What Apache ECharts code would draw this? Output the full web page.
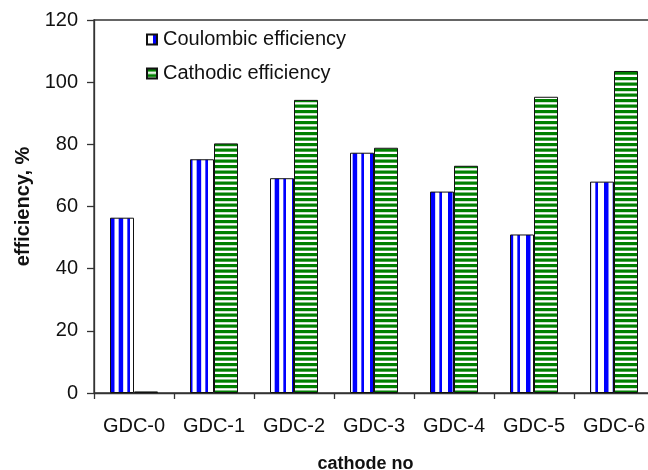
<!DOCTYPE html>
<html><head><meta charset="utf-8">
<script src="https://cdn.jsdelivr.net/npm/echarts@6/dist/echarts.min.js"></script>
<style>html,body{margin:0;padding:0;background:#fff}#c{width:648px;height:470px}</style>
</head><body><div id="c"></div>
<script>
const categories = ['GDC-0', 'GDC-1', 'GDC-2', 'GDC-3', 'GDC-4', 'GDC-5', 'GDC-6'];
const coulombic = [56.4, 75.2, 69.1, 77.3, 64.8, 51.0, 68.0];
const cathodic = [0.5, 80.3, 94.3, 78.9, 73.1, 95.3, 103.6];
const seriesNames = ['Coulombic efficiency', 'Cathodic efficiency'];
const yMin = 0, yMax = 120, yStep = 20;

function vStripes() {
  const c = document.createElement('canvas');
  c.width = 26; c.height = 4;
  const g = c.getContext('2d');
  g.fillStyle = '#fff'; g.fillRect(0, 0, 26, 4);
  g.fillStyle = '#0000ff';
  for (let i = 0; i < 3; i++) g.fillRect(6 + i * 8.667, 0, 4.5, 4);
  return c;
}
function hStripes() {
  const c = document.createElement('canvas');
  c.width = 4; c.height = 11;
  const g = c.getContext('2d');
  g.fillStyle = '#fff'; g.fillRect(0, 0, 4, 11);
  g.fillStyle = '#008000';
  g.fillRect(0, 0, 4, 3.2);
  g.fillRect(0, 5.5, 4, 3.2);
  return c;
}

const FONT = '"Liberation Sans", Arial, sans-serif';
const chart = echarts.init(document.getElementById('c'), null, {renderer: 'canvas'});
chart.setOption({
  animation: false,
  backgroundColor: '#fff',
  grid: {left: 94, top: 20, right: -6, bottom: 77, show: true, borderColor: '#333', borderWidth: 1.3,
         outerBoundsMode: 'none', containLabel: false},
  legend: {
    orient: 'vertical', left: 146, top: 29.5, padding: 0,
    itemWidth: 10, itemHeight: 10, itemGap: 14,
    icon: 'rect',
    textStyle: {fontFamily: FONT, fontSize: 20, color: '#111', padding: [0, 0, 0, 1]},
    data: seriesNames
  },
  xAxis: {
    type: 'category', data: categories,
    name: 'cathode no', nameLocation: 'middle', nameGap: 62,
    nameTextStyle: {fontFamily: FONT, fontSize: 18, fontWeight: 'bold', color: '#111', padding: [0, 17, 0, 0]},
    axisLine: {lineStyle: {color: '#333', width: 1.3}},
    axisTick: {show: true, length: 6, alignWithLabel: false, lineStyle: {color: '#333', width: 1.3}},
    axisLabel: {fontFamily: FONT, fontSize: 20, color: '#111', margin: 23, interval: 0, hideOverlap: false},
    splitLine: {show: false}
  },
  yAxis: {
    type: 'value', min: yMin, max: yMax, interval: yStep,
    name: 'efficiency, %', nameLocation: 'middle', nameGap: 61,
    nameTextStyle: {fontFamily: FONT, fontSize: 20, fontWeight: 'bold', color: '#111'},
    axisLine: {show: true, lineStyle: {color: '#333', width: 1.3}},
    axisTick: {show: true, length: 7, lineStyle: {color: '#333', width: 1.3}},
    axisLabel: {fontFamily: FONT, fontSize: 20, color: '#111', margin: 16},
    splitLine: {show: false}
  },
  series: [
    {
      name: seriesNames[0], type: 'bar', data: coulombic,
      barGap: '0%', barCategoryGap: '40%',
      itemStyle: {color: {image: vStripes(), repeat: 'repeat'}, borderColor: '#111', borderWidth: 1}
    },
    {
      name: seriesNames[1], type: 'bar', data: cathodic,
      barGap: '0%', barCategoryGap: '40%',
      itemStyle: {color: {image: hStripes(), repeat: 'repeat'}, borderColor: '#111', borderWidth: 1}
    }
  ]
});
</script></body></html>
